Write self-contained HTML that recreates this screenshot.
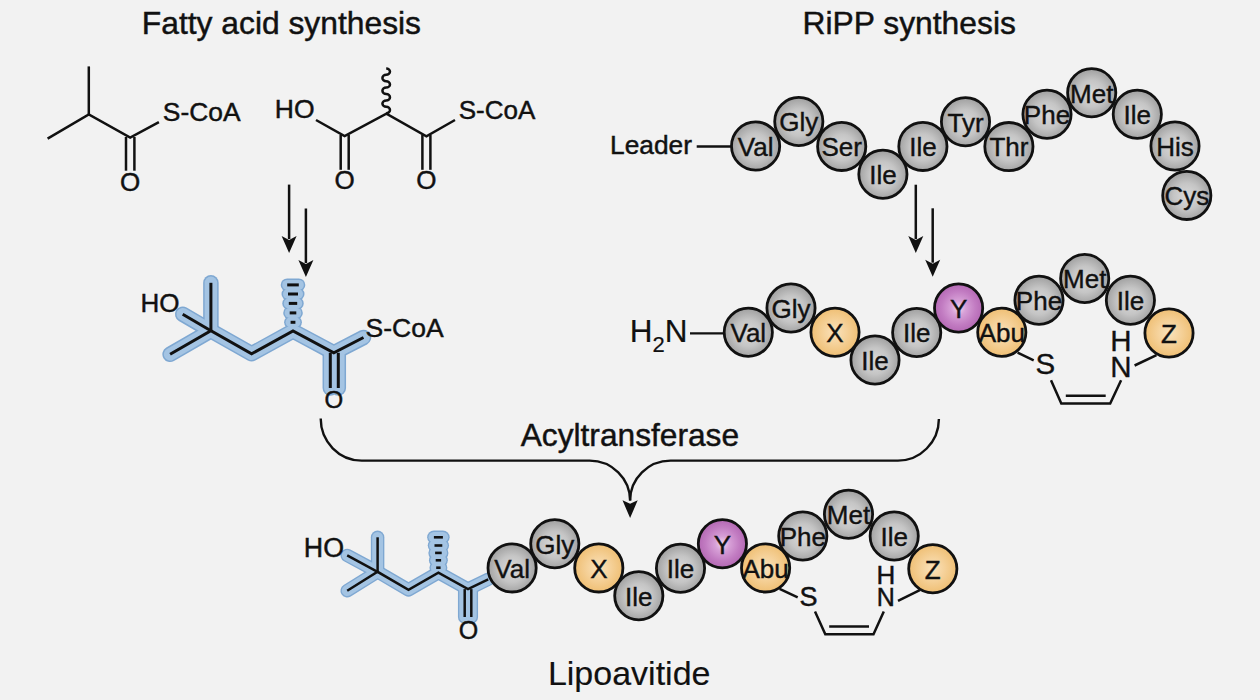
<!DOCTYPE html>
<html><head><meta charset="utf-8"><style>
html,body{margin:0;padding:0;background:#f2f2f2;}
svg{display:block;}
</style></head><body>
<svg width="1260" height="700" viewBox="0 0 1260 700" font-family='"Liberation Sans", sans-serif'>
<defs>
<radialGradient id="g" cx="50%" cy="52%" r="50%"><stop offset="0" stop-color="#d9d9d9"/><stop offset="0.55" stop-color="#c5c5c5"/><stop offset="1" stop-color="#a2a2a2"/></radialGradient>
<radialGradient id="o" cx="50%" cy="50%" r="50%"><stop offset="0" stop-color="#fae2bb"/><stop offset="0.5" stop-color="#f5d199"/><stop offset="1" stop-color="#efbf74"/></radialGradient>
<radialGradient id="p" cx="50%" cy="50%" r="50%"><stop offset="0" stop-color="#efd8ef"/><stop offset="0.3" stop-color="#d7a0d7"/><stop offset="0.7" stop-color="#c27cc2"/><stop offset="1" stop-color="#b468b4"/></radialGradient>
</defs>
<rect width="1260" height="700" fill="#f2f2f2"/>
<text x="141.8" y="33.9" font-size="31.8" text-anchor="start" fill="#111" stroke="#111" stroke-width="0.45" >Fatty acid synthesis</text>
<text x="802.6" y="34.2" font-size="31.8" text-anchor="start" fill="#111" stroke="#111" stroke-width="0.45" >RiPP synthesis</text>
<line x1="88.8" y1="66.4" x2="88.8" y2="115.5" stroke="#111" stroke-width="2.5" stroke-linecap="butt"/>
<polyline points="47.6,138.6 88.8,114.5 130.2,137.5 158.9,122.2" fill="none" stroke="#111" stroke-width="2.5" stroke-linecap="butt" stroke-linejoin="miter"/>
<line x1="126.0" y1="137.0" x2="126.0" y2="170.7" stroke="#111" stroke-width="2.5" stroke-linecap="butt"/>
<line x1="134.4" y1="137.0" x2="134.4" y2="170.7" stroke="#111" stroke-width="2.5" stroke-linecap="butt"/>
<text x="130.2" y="190.8" font-size="26" text-anchor="middle" fill="#111" stroke="#111" stroke-width="0.45" >O</text>
<text x="162.8" y="121.2" font-size="26.4" text-anchor="start" fill="#111" stroke="#111" stroke-width="0.45" >S-CoA</text>
<text x="274.8" y="118.2" font-size="26.5" text-anchor="start" fill="#111" stroke="#111" stroke-width="0.45" >HO</text>
<polyline points="316.0,120.0 344.6,136.0 386.4,113.6 426.4,136.4 455.0,120.0" fill="none" stroke="#111" stroke-width="2.5" stroke-linecap="butt" stroke-linejoin="miter"/>
<line x1="340.7" y1="135.0" x2="340.7" y2="169.8" stroke="#111" stroke-width="2.5" stroke-linecap="butt"/>
<line x1="348.7" y1="135.0" x2="348.7" y2="169.8" stroke="#111" stroke-width="2.5" stroke-linecap="butt"/>
<line x1="422.4" y1="135.0" x2="422.4" y2="169.8" stroke="#111" stroke-width="2.5" stroke-linecap="butt"/>
<line x1="430.4" y1="135.0" x2="430.4" y2="169.8" stroke="#111" stroke-width="2.5" stroke-linecap="butt"/>
<text x="344.6" y="189.2" font-size="26" text-anchor="middle" fill="#111" stroke="#111" stroke-width="0.45" >O</text>
<text x="426.4" y="189.2" font-size="26" text-anchor="middle" fill="#111" stroke="#111" stroke-width="0.45" >O</text>
<text x="458.7" y="118.6" font-size="26" text-anchor="start" fill="#111" stroke="#111" stroke-width="0.45" >S-CoA</text>
<path d="M386.2,113.2 A3.8,3.2 0 0 0 386.2,106.80 A3.8,3.2 0 0 1 386.2,100.40 A3.8,3.2 0 0 0 386.2,94.00 A3.8,3.2 0 0 1 386.2,87.60 A3.8,3.2 0 0 0 386.2,81.20 A3.8,3.2 0 0 1 386.2,74.80 A3.8,3.2 0 0 0 386.2,68.40" fill="none" stroke="#111" stroke-width="2.5"/>
<line x1="289.1" y1="184.6" x2="289.1" y2="239.0" stroke="#111" stroke-width="2.5" stroke-linecap="butt"/>
<path d="M281.6,236.0 L289.1,253.0 L296.6,236.0 L289.1,240.0 Z" fill="#111"/>
<line x1="305.9" y1="208.5" x2="305.9" y2="263.0" stroke="#111" stroke-width="2.5" stroke-linecap="butt"/>
<path d="M298.4,260.0 L305.9,277.0 L313.4,260.0 L305.9,264.0 Z" fill="#111"/>
<line x1="915.8" y1="184.7" x2="915.8" y2="239.1" stroke="#111" stroke-width="2.5" stroke-linecap="butt"/>
<path d="M908.3,236.1 L915.8,253.1 L923.3,236.1 L915.8,240.1 Z" fill="#111"/>
<line x1="932.7" y1="208.3" x2="932.7" y2="262.7" stroke="#111" stroke-width="2.5" stroke-linecap="butt"/>
<path d="M925.2,259.7 L932.7,276.7 L940.2,259.7 L932.7,263.7 Z" fill="#111"/>
<g stroke="#7fa8d2" stroke-width="15.5" stroke-linecap="round" stroke-linejoin="round" fill="none">
<polyline points="170.1,354.3 210.9,330.7 251.6,353.8 293.0,331.0 333.8,352.8 363.5,337.5" fill="none" stroke="#7fa8d2" stroke-width="15.5" stroke-linecap="round" stroke-linejoin="round"/>
<line x1="210.9" y1="330.7" x2="210.9" y2="282.8" stroke="#7fa8d2" stroke-width="15.5" stroke-linecap="round"/>
<line x1="182.7" y1="314.2" x2="210.9" y2="330.7" stroke="#7fa8d2" stroke-width="15.5" stroke-linecap="round"/>
<line x1="330.3" y1="352.8" x2="330.3" y2="388.0" stroke="#7fa8d2" stroke-width="15.5" stroke-linecap="round"/>
<line x1="338.3" y1="352.8" x2="338.3" y2="388.0" stroke="#7fa8d2" stroke-width="15.5" stroke-linecap="round"/>
<line x1="287.2" y1="284.9" x2="298.8" y2="284.9" stroke="#7fa8d2" stroke-width="13.0" stroke-linecap="round"/>
<line x1="288.0" y1="294.0" x2="298.0" y2="294.0" stroke="#7fa8d2" stroke-width="13.0" stroke-linecap="round"/>
<line x1="288.8" y1="303.4" x2="297.2" y2="303.4" stroke="#7fa8d2" stroke-width="13.0" stroke-linecap="round"/>
<line x1="289.7" y1="312.9" x2="296.3" y2="312.9" stroke="#7fa8d2" stroke-width="13.0" stroke-linecap="round"/>
<line x1="290.6" y1="322.3" x2="295.4" y2="322.3" stroke="#7fa8d2" stroke-width="13.0" stroke-linecap="round"/>
</g>
<g stroke="#a4c4e3" stroke-width="12.5" stroke-linecap="round" stroke-linejoin="round" fill="none">
<polyline points="170.1,354.3 210.9,330.7 251.6,353.8 293.0,331.0 333.8,352.8 363.5,337.5" fill="none" stroke="#a4c4e3" stroke-width="12.5" stroke-linecap="round" stroke-linejoin="round"/>
<line x1="210.9" y1="330.7" x2="210.9" y2="282.8" stroke="#a4c4e3" stroke-width="12.5" stroke-linecap="round"/>
<line x1="182.7" y1="314.2" x2="210.9" y2="330.7" stroke="#a4c4e3" stroke-width="12.5" stroke-linecap="round"/>
<line x1="330.3" y1="352.8" x2="330.3" y2="388.0" stroke="#a4c4e3" stroke-width="12.5" stroke-linecap="round"/>
<line x1="338.3" y1="352.8" x2="338.3" y2="388.0" stroke="#a4c4e3" stroke-width="12.5" stroke-linecap="round"/>
<line x1="287.2" y1="284.9" x2="298.8" y2="284.9" stroke="#a4c4e3" stroke-width="10.0" stroke-linecap="round"/>
<line x1="288.0" y1="294.0" x2="298.0" y2="294.0" stroke="#a4c4e3" stroke-width="10.0" stroke-linecap="round"/>
<line x1="288.8" y1="303.4" x2="297.2" y2="303.4" stroke="#a4c4e3" stroke-width="10.0" stroke-linecap="round"/>
<line x1="289.7" y1="312.9" x2="296.3" y2="312.9" stroke="#a4c4e3" stroke-width="10.0" stroke-linecap="round"/>
<line x1="290.6" y1="322.3" x2="295.4" y2="322.3" stroke="#a4c4e3" stroke-width="10.0" stroke-linecap="round"/>
</g>
<polyline points="170.1,354.3 210.9,330.7 251.6,353.8 293.0,331.0 333.8,352.8 363.5,337.5" fill="none" stroke="#111" stroke-width="3" stroke-linecap="butt" stroke-linejoin="miter"/>
<line x1="210.9" y1="330.7" x2="210.9" y2="282.8" stroke="#111" stroke-width="3" stroke-linecap="butt"/>
<line x1="182.7" y1="314.2" x2="210.9" y2="330.7" stroke="#111" stroke-width="3" stroke-linecap="butt"/>
<line x1="330.3" y1="352.8" x2="330.3" y2="388.0" stroke="#111" stroke-width="3" stroke-linecap="butt"/>
<line x1="338.3" y1="352.8" x2="338.3" y2="388.0" stroke="#111" stroke-width="3" stroke-linecap="butt"/>
<line x1="287.2" y1="284.9" x2="298.8" y2="284.9" stroke="#111" stroke-width="3" stroke-linecap="butt"/>
<line x1="288.0" y1="294.0" x2="298.0" y2="294.0" stroke="#111" stroke-width="3" stroke-linecap="butt"/>
<line x1="288.8" y1="303.4" x2="297.2" y2="303.4" stroke="#111" stroke-width="3" stroke-linecap="butt"/>
<line x1="289.7" y1="312.9" x2="296.3" y2="312.9" stroke="#111" stroke-width="3" stroke-linecap="butt"/>
<line x1="290.6" y1="322.3" x2="295.4" y2="322.3" stroke="#111" stroke-width="3" stroke-linecap="butt"/>
<text x="140.5" y="311.9" font-size="26" text-anchor="start" fill="#111" stroke="#111" stroke-width="0.45" >HO</text>
<text x="333.8" y="408.0" font-size="24" text-anchor="middle" fill="#111" stroke="#111" stroke-width="0.45" >O</text>
<text x="365.6" y="336.6" font-size="26.5" text-anchor="start" fill="#111" stroke="#111" stroke-width="0.45" >S-CoA</text>
<path d="M320.7,418.6 A41,42 0 0 0 361.7,460.6 L589.6,460.6 A40.5,40 0 0 1 630.1,500.6" fill="none" stroke="#111" stroke-width="2.4"/>
<path d="M938.9,418.9 A41,42 0 0 1 897.7,460.6 L670.6,460.6 A40.5,40 0 0 0 630.1,500.6" fill="none" stroke="#111" stroke-width="2.4"/>
<path d="M622.5,500.3 L630.1,518.1 L637.7,500.3 L630.1,503.8 Z" fill="#111"/>
<text x="520.7" y="446.2" font-size="31.7" text-anchor="start" fill="#111" stroke="#111" stroke-width="0.45" >Acyltransferase</text>
<text x="610.1" y="153.9" font-size="26.3" text-anchor="start" fill="#111" stroke="#111" stroke-width="0.45" >Leader</text>
<line x1="696.7" y1="146.5" x2="731.0" y2="146.5" stroke="#111" stroke-width="2.3" stroke-linecap="butt"/>
<circle cx="755.6" cy="146.0" r="24.1" fill="url(#g)" stroke="#111" stroke-width="2.8"/>
<text x="755.6" y="155.8" font-size="26" text-anchor="middle" fill="#111" stroke="#111" stroke-width="0.4" >Val</text>
<circle cx="798.8" cy="121.5" r="24.1" fill="url(#g)" stroke="#111" stroke-width="2.8"/>
<text x="798.8" y="131.3" font-size="26" text-anchor="middle" fill="#111" stroke="#111" stroke-width="0.4" >Gly</text>
<circle cx="841.7" cy="146.4" r="24.1" fill="url(#g)" stroke="#111" stroke-width="2.8"/>
<text x="841.7" y="156.2" font-size="26" text-anchor="middle" fill="#111" stroke="#111" stroke-width="0.4" >Ser</text>
<circle cx="882.9" cy="174.2" r="24.1" fill="url(#g)" stroke="#111" stroke-width="2.8"/>
<text x="882.9" y="184.0" font-size="26" text-anchor="middle" fill="#111" stroke="#111" stroke-width="0.4" >Ile</text>
<circle cx="922.9" cy="146.4" r="24.1" fill="url(#g)" stroke="#111" stroke-width="2.8"/>
<text x="922.9" y="156.2" font-size="26" text-anchor="middle" fill="#111" stroke="#111" stroke-width="0.4" >Ile</text>
<circle cx="965.5" cy="121.8" r="24.1" fill="url(#g)" stroke="#111" stroke-width="2.8"/>
<text x="965.5" y="131.6" font-size="26" text-anchor="middle" fill="#111" stroke="#111" stroke-width="0.4" >Tyr</text>
<circle cx="1008.9" cy="146.6" r="24.1" fill="url(#g)" stroke="#111" stroke-width="2.8"/>
<text x="1008.9" y="156.4" font-size="26" text-anchor="middle" fill="#111" stroke="#111" stroke-width="0.4" >Thr</text>
<circle cx="1047.0" cy="114.2" r="24.1" fill="url(#g)" stroke="#111" stroke-width="2.8"/>
<text x="1047.0" y="124.0" font-size="26" text-anchor="middle" fill="#111" stroke="#111" stroke-width="0.4" >Phe</text>
<circle cx="1091.7" cy="92.7" r="24.1" fill="url(#g)" stroke="#111" stroke-width="2.8"/>
<text x="1091.7" y="102.5" font-size="26" text-anchor="middle" fill="#111" stroke="#111" stroke-width="0.4" >Met</text>
<circle cx="1137.3" cy="114.2" r="24.1" fill="url(#g)" stroke="#111" stroke-width="2.8"/>
<text x="1137.3" y="124.0" font-size="26" text-anchor="middle" fill="#111" stroke="#111" stroke-width="0.4" >Ile</text>
<circle cx="1175.0" cy="146.0" r="24.1" fill="url(#g)" stroke="#111" stroke-width="2.8"/>
<text x="1175.0" y="155.8" font-size="26" text-anchor="middle" fill="#111" stroke="#111" stroke-width="0.4" >His</text>
<circle cx="1186.8" cy="195.4" r="24.1" fill="url(#g)" stroke="#111" stroke-width="2.8"/>
<text x="1186.8" y="205.2" font-size="26" text-anchor="middle" fill="#111" stroke="#111" stroke-width="0.4" >Cys</text>
<text x="629.7" y="342.1" font-size="31.5" text-anchor="start" fill="#111" stroke="#111" stroke-width="0.2" >H</text>
<text x="652.4" y="352.0" font-size="22" text-anchor="start" fill="#111" stroke="#111" stroke-width="0.2" >2</text>
<text x="664.7" y="342.1" font-size="31.5" text-anchor="start" fill="#111" stroke="#111" stroke-width="0.2" >N</text>
<line x1="690.0" y1="333.3" x2="724.0" y2="333.3" stroke="#111" stroke-width="2.3" stroke-linecap="butt"/>
<circle cx="748.3" cy="332.2" r="24.1" fill="url(#g)" stroke="#111" stroke-width="2.8"/>
<text x="748.3" y="342.0" font-size="26" text-anchor="middle" fill="#111" stroke="#111" stroke-width="0.4" >Val</text>
<circle cx="791.0" cy="308.0" r="24.1" fill="url(#g)" stroke="#111" stroke-width="2.8"/>
<text x="791.0" y="317.8" font-size="26" text-anchor="middle" fill="#111" stroke="#111" stroke-width="0.4" >Gly</text>
<circle cx="835.0" cy="332.2" r="24.1" fill="url(#o)" stroke="#111" stroke-width="2.8"/>
<text x="835.0" y="342.0" font-size="26" text-anchor="middle" fill="#111" stroke="#111" stroke-width="0.4" >X</text>
<circle cx="875.0" cy="360.0" r="24.1" fill="url(#g)" stroke="#111" stroke-width="2.8"/>
<text x="875.0" y="369.8" font-size="26" text-anchor="middle" fill="#111" stroke="#111" stroke-width="0.4" >Ile</text>
<circle cx="916.7" cy="332.5" r="24.1" fill="url(#g)" stroke="#111" stroke-width="2.8"/>
<text x="916.7" y="342.3" font-size="26" text-anchor="middle" fill="#111" stroke="#111" stroke-width="0.4" >Ile</text>
<circle cx="958.6" cy="308.0" r="24.1" fill="url(#p)" stroke="#111" stroke-width="2.8"/>
<text x="958.6" y="317.8" font-size="26" text-anchor="middle" fill="#111" stroke="#111" stroke-width="0.4" >Y</text>
<circle cx="1001.8" cy="332.2" r="24.1" fill="url(#o)" stroke="#111" stroke-width="2.8"/>
<text x="1001.8" y="342.0" font-size="26" text-anchor="middle" fill="#111" stroke="#111" stroke-width="0.4" >Abu</text>
<circle cx="1039.0" cy="300.3" r="24.1" fill="url(#g)" stroke="#111" stroke-width="2.8"/>
<text x="1039.0" y="310.1" font-size="26" text-anchor="middle" fill="#111" stroke="#111" stroke-width="0.4" >Phe</text>
<circle cx="1084.7" cy="278.5" r="24.1" fill="url(#g)" stroke="#111" stroke-width="2.8"/>
<text x="1084.7" y="288.3" font-size="26" text-anchor="middle" fill="#111" stroke="#111" stroke-width="0.4" >Met</text>
<circle cx="1130.4" cy="300.3" r="24.1" fill="url(#g)" stroke="#111" stroke-width="2.8"/>
<text x="1130.4" y="310.1" font-size="26" text-anchor="middle" fill="#111" stroke="#111" stroke-width="0.4" >Ile</text>
<circle cx="1169.0" cy="333.0" r="24.1" fill="url(#o)" stroke="#111" stroke-width="2.8"/>
<text x="1169.0" y="342.8" font-size="26" text-anchor="middle" fill="#111" stroke="#111" stroke-width="0.4" >Z</text>
<line x1="1017.6" y1="352.7" x2="1033.7" y2="360.4" stroke="#111" stroke-width="2.5" stroke-linecap="butt"/>
<polyline points="1051.0,380.3 1061.3,403.5 1110.2,403.5 1121.1,380.3" fill="none" stroke="#111" stroke-width="2.5" stroke-linecap="butt" stroke-linejoin="miter"/>
<line x1="1065.8" y1="395.7" x2="1105.7" y2="395.7" stroke="#111" stroke-width="2.5" stroke-linecap="butt"/>
<line x1="1134.6" y1="365.5" x2="1156.5" y2="355.2" stroke="#111" stroke-width="2.5" stroke-linecap="butt"/>
<text x="1045.3" y="374.4" font-size="29.5" text-anchor="middle" fill="#111" stroke="#111" stroke-width="0.35" >S</text>
<text x="1120.9" y="350.6" font-size="29.5" text-anchor="middle" fill="#111" stroke="#111" stroke-width="0.35" >H</text>
<text x="1120.9" y="377.0" font-size="29.5" text-anchor="middle" fill="#111" stroke="#111" stroke-width="0.35" >N</text>
<g>
<polyline points="347.2,590.7 377.6,571.8 408.5,589.9 438.4,572.6 468.0,589.1 488.2,579.3" fill="none" stroke="#7fa8d2" stroke-width="13.5" stroke-linecap="round" stroke-linejoin="round"/>
<line x1="377.6" y1="571.8" x2="377.6" y2="537.3" stroke="#7fa8d2" stroke-width="13.5" stroke-linecap="round"/>
<line x1="347.2" y1="555.4" x2="377.6" y2="571.8" stroke="#7fa8d2" stroke-width="13.5" stroke-linecap="round"/>
<line x1="464.7" y1="589.1" x2="464.7" y2="617.0" stroke="#7fa8d2" stroke-width="13.5" stroke-linecap="round"/>
<line x1="471.3" y1="589.1" x2="471.3" y2="617.0" stroke="#7fa8d2" stroke-width="13.5" stroke-linecap="round"/>
<line x1="433.9" y1="537.3" x2="442.9" y2="537.3" stroke="#7fa8d2" stroke-width="13.5" stroke-linecap="round"/>
<line x1="434.5" y1="545.5" x2="442.3" y2="545.5" stroke="#7fa8d2" stroke-width="13.5" stroke-linecap="round"/>
<line x1="435.1" y1="552.9" x2="441.7" y2="552.9" stroke="#7fa8d2" stroke-width="13.5" stroke-linecap="round"/>
<line x1="435.7" y1="560.3" x2="441.1" y2="560.3" stroke="#7fa8d2" stroke-width="13.5" stroke-linecap="round"/>
<line x1="436.2" y1="567.7" x2="440.6" y2="567.7" stroke="#7fa8d2" stroke-width="13.5" stroke-linecap="round"/>
</g>
<g>
<polyline points="347.2,590.7 377.6,571.8 408.5,589.9 438.4,572.6 468.0,589.1 488.2,579.3" fill="none" stroke="#a4c4e3" stroke-width="10.8" stroke-linecap="round" stroke-linejoin="round"/>
<line x1="377.6" y1="571.8" x2="377.6" y2="537.3" stroke="#a4c4e3" stroke-width="10.8" stroke-linecap="round"/>
<line x1="347.2" y1="555.4" x2="377.6" y2="571.8" stroke="#a4c4e3" stroke-width="10.8" stroke-linecap="round"/>
<line x1="464.7" y1="589.1" x2="464.7" y2="617.0" stroke="#a4c4e3" stroke-width="10.8" stroke-linecap="round"/>
<line x1="471.3" y1="589.1" x2="471.3" y2="617.0" stroke="#a4c4e3" stroke-width="10.8" stroke-linecap="round"/>
<line x1="433.9" y1="537.3" x2="442.9" y2="537.3" stroke="#a4c4e3" stroke-width="10.8" stroke-linecap="round"/>
<line x1="434.5" y1="545.5" x2="442.3" y2="545.5" stroke="#a4c4e3" stroke-width="10.8" stroke-linecap="round"/>
<line x1="435.1" y1="552.9" x2="441.7" y2="552.9" stroke="#a4c4e3" stroke-width="10.8" stroke-linecap="round"/>
<line x1="435.7" y1="560.3" x2="441.1" y2="560.3" stroke="#a4c4e3" stroke-width="10.8" stroke-linecap="round"/>
<line x1="436.2" y1="567.7" x2="440.6" y2="567.7" stroke="#a4c4e3" stroke-width="10.8" stroke-linecap="round"/>
</g>
<polyline points="347.2,590.7 377.6,571.8 408.5,589.9 438.4,572.6 468.0,589.1 488.2,579.3" fill="none" stroke="#111" stroke-width="2.5" stroke-linecap="butt" stroke-linejoin="miter"/>
<line x1="377.6" y1="571.8" x2="377.6" y2="537.3" stroke="#111" stroke-width="2.5" stroke-linecap="butt"/>
<line x1="347.2" y1="555.4" x2="377.6" y2="571.8" stroke="#111" stroke-width="2.5" stroke-linecap="butt"/>
<line x1="464.7" y1="589.1" x2="464.7" y2="617.0" stroke="#111" stroke-width="2.5" stroke-linecap="butt"/>
<line x1="471.3" y1="589.1" x2="471.3" y2="617.0" stroke="#111" stroke-width="2.5" stroke-linecap="butt"/>
<line x1="433.9" y1="537.3" x2="442.9" y2="537.3" stroke="#111" stroke-width="2.6" stroke-linecap="butt"/>
<line x1="434.5" y1="545.5" x2="442.3" y2="545.5" stroke="#111" stroke-width="2.6" stroke-linecap="butt"/>
<line x1="435.1" y1="552.9" x2="441.7" y2="552.9" stroke="#111" stroke-width="2.6" stroke-linecap="butt"/>
<line x1="435.7" y1="560.3" x2="441.1" y2="560.3" stroke="#111" stroke-width="2.6" stroke-linecap="butt"/>
<line x1="436.2" y1="567.7" x2="440.6" y2="567.7" stroke="#111" stroke-width="2.6" stroke-linecap="butt"/>
<text x="303.8" y="556.8" font-size="26.8" text-anchor="start" fill="#111" stroke="#111" stroke-width="0.45" >HO</text>
<text x="468.4" y="638.6" font-size="25" text-anchor="middle" fill="#111" stroke="#111" stroke-width="0.45" >O</text>
<circle cx="512.1" cy="567.9" r="24.1" fill="url(#g)" stroke="#111" stroke-width="2.8"/>
<text x="512.1" y="577.7" font-size="26" text-anchor="middle" fill="#111" stroke="#111" stroke-width="0.4" >Val</text>
<circle cx="554.8" cy="543.7" r="24.1" fill="url(#g)" stroke="#111" stroke-width="2.8"/>
<text x="554.8" y="553.5" font-size="26" text-anchor="middle" fill="#111" stroke="#111" stroke-width="0.4" >Gly</text>
<circle cx="598.8" cy="567.9" r="24.1" fill="url(#o)" stroke="#111" stroke-width="2.8"/>
<text x="598.8" y="577.7" font-size="26" text-anchor="middle" fill="#111" stroke="#111" stroke-width="0.4" >X</text>
<circle cx="638.8" cy="595.7" r="24.1" fill="url(#g)" stroke="#111" stroke-width="2.8"/>
<text x="638.8" y="605.5" font-size="26" text-anchor="middle" fill="#111" stroke="#111" stroke-width="0.4" >Ile</text>
<circle cx="680.5" cy="568.2" r="24.1" fill="url(#g)" stroke="#111" stroke-width="2.8"/>
<text x="680.5" y="578.0" font-size="26" text-anchor="middle" fill="#111" stroke="#111" stroke-width="0.4" >Ile</text>
<circle cx="722.4" cy="543.7" r="24.1" fill="url(#p)" stroke="#111" stroke-width="2.8"/>
<text x="722.4" y="553.5" font-size="26" text-anchor="middle" fill="#111" stroke="#111" stroke-width="0.4" >Y</text>
<circle cx="765.6" cy="567.9" r="24.1" fill="url(#o)" stroke="#111" stroke-width="2.8"/>
<text x="765.6" y="577.7" font-size="26" text-anchor="middle" fill="#111" stroke="#111" stroke-width="0.4" >Abu</text>
<circle cx="802.8" cy="536.0" r="24.1" fill="url(#g)" stroke="#111" stroke-width="2.8"/>
<text x="802.8" y="545.8" font-size="26" text-anchor="middle" fill="#111" stroke="#111" stroke-width="0.4" >Phe</text>
<circle cx="848.5" cy="514.2" r="24.1" fill="url(#g)" stroke="#111" stroke-width="2.8"/>
<text x="848.5" y="524.0" font-size="26" text-anchor="middle" fill="#111" stroke="#111" stroke-width="0.4" >Met</text>
<circle cx="894.2" cy="536.0" r="24.1" fill="url(#g)" stroke="#111" stroke-width="2.8"/>
<text x="894.2" y="545.8" font-size="26" text-anchor="middle" fill="#111" stroke="#111" stroke-width="0.4" >Ile</text>
<circle cx="932.8" cy="568.7" r="24.1" fill="url(#o)" stroke="#111" stroke-width="2.8"/>
<text x="932.8" y="578.5" font-size="26" text-anchor="middle" fill="#111" stroke="#111" stroke-width="0.4" >Z</text>
<line x1="779.6" y1="588.9" x2="797.7" y2="597.3" stroke="#111" stroke-width="2.5" stroke-linecap="butt"/>
<polyline points="815.0,611.4 825.3,634.3 873.5,634.3 883.8,611.4" fill="none" stroke="#111" stroke-width="2.5" stroke-linecap="butt" stroke-linejoin="miter"/>
<line x1="829.2" y1="626.6" x2="869.0" y2="626.6" stroke="#111" stroke-width="2.5" stroke-linecap="butt"/>
<line x1="898.0" y1="600.9" x2="919.8" y2="590.2" stroke="#111" stroke-width="2.5" stroke-linecap="butt"/>
<text x="808.6" y="606.0" font-size="27" text-anchor="middle" fill="#111" stroke="#111" stroke-width="0.45" >S</text>
<text x="885.8" y="584.2" font-size="26" text-anchor="middle" fill="#111" stroke="#111" stroke-width="0.45" >H</text>
<text x="885.8" y="606.0" font-size="25" text-anchor="middle" fill="#111" stroke="#111" stroke-width="0.45" >N</text>
<text x="547.9" y="684.7" font-size="34" text-anchor="start" fill="#111" stroke="#111" stroke-width="0.15" >Lipoavitide</text>
</svg>
</body></html>
